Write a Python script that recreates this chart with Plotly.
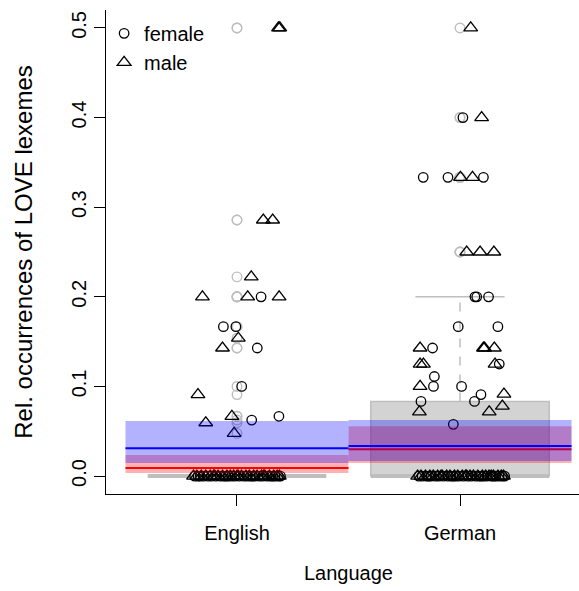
import plotly.graph_objects as go

# ---------------- data ----------------
languages = ["English", "German"]
lang_pos = [1, 2]

# non-zero observations (value, jittered x position)
eng_female_vals = [0.2, 0.1667, 0.1667, 0.1429, 0.1, 0.0667, 0.0625]
eng_female_x = [1.108, 0.939, 0.995, 1.091, 1.021, 1.188, 1.066]
eng_male_vals = [0.5, 0.5, 0.2857, 0.2857, 0.2222, 0.2, 0.2, 0.2, 0.1538,
                 0.1429, 0.0909, 0.0667, 0.0595, 0.0476]
eng_male_x = [1.186, 1.192, 1.118, 1.160, 1.064, 0.845, 1.048, 1.189, 1.006,
              0.935, 0.825, 0.977, 0.860, 0.987]
ger_female_vals = [0.4, 0.3333, 0.3333, 0.3333, 0.2, 0.2, 0.2, 0.1667, 0.1667,
                   0.1429, 0.125, 0.1111, 0.1, 0.1, 0.0909, 0.0833, 0.0833, 0.0577]
ger_female_x = [2.013, 1.835, 1.946, 2.105, 2.067, 2.075, 2.128, 1.992, 2.170,
                1.877, 2.176, 1.885, 1.881, 2.007, 2.094, 2.065, 1.825, 1.970]
ger_male_vals = [0.5, 0.4, 0.3333, 0.3333, 0.25, 0.25, 0.25, 0.1429, 0.1429,
                 0.1429, 0.1429, 0.125, 0.125, 0.125, 0.1, 0.0915, 0.078,
                 0.0717, 0.0717]
ger_male_x = [2.048, 2.097, 2.002, 2.056, 2.030, 2.090, 2.152, 1.821, 2.105,
              2.110, 2.154, 1.821, 1.836, 2.157, 1.821, 2.197, 2.190, 1.818, 2.131]

# zero observations (jittered x positions only, value = 0)
eng_female_zero_x = [0.81, 0.825, 0.85, 0.87, 0.885, 0.905, 0.925, 0.94, 0.96,
                     0.975, 0.99, 1.01, 1.03, 1.045, 1.06, 1.08, 1.1, 1.115,
                     1.135, 1.15, 1.17, 1.185, 1.195, 0.835, 0.95, 1.07, 1.16]
eng_male_zero_x = [0.805, 0.82, 0.84, 0.86, 0.88, 0.9, 0.915, 0.935, 0.955,
                   0.97, 0.985, 1.0, 1.02, 1.04, 1.055, 1.075, 1.09, 1.11,
                   1.125, 1.145, 1.165, 1.18, 1.19, 0.895, 1.005, 1.12]
ger_female_zero_x = [1.815, 1.83, 1.85, 1.87, 1.89, 1.905, 1.925, 1.945, 1.96,
                     1.98, 1.995, 2.015, 2.035, 2.05, 2.07, 2.085, 2.105, 2.12,
                     2.14, 2.16, 2.175, 2.19, 2.2, 1.86, 1.97, 2.095, 2.15]
ger_male_zero_x = [1.81, 1.825, 1.845, 1.865, 1.88, 1.9, 1.92, 1.94, 1.955,
                   1.975, 1.99, 2.01, 2.025, 2.045, 2.06, 2.08, 2.1, 2.115,
                   2.13, 2.15, 2.17, 2.185, 2.195, 1.915, 2.03, 2.14]

# boxplot statistics per language
box_q1 = [0.0, 0.0]
box_median = [0.0, 0.0]
box_q3 = [0.0, 0.0833]
whisk_lo = [0.0, 0.0]
whisk_hi = [0.0, 0.2]

# model estimates with confidence bands
female_fit = [0.0089, 0.030]
female_lo = [0.0033, 0.0145]
female_hi = [0.0234, 0.0557]
male_fit = [0.031, 0.0335]
male_lo = [0.0145, 0.0167]
male_hi = [0.0614, 0.0625]

y_ticks = [0.0, 0.1, 0.2, 0.3, 0.4, 0.5]
y_tick_labels = ["0.0", "0.1", "0.2", "0.3", "0.4", "0.5"]

# ---------------- figure ----------------
GREY = "#BEBEBE"
fig = go.Figure()

# box (precomputed)
fig.add_trace(go.Box(
    x=lang_pos, q1=box_q1, median=box_median, q3=box_q3,
    lowerfence=box_q1, upperfence=box_q3, width=0.8,
    fillcolor="#D3D3D3", line=dict(color=GREY, width=1.5),
    boxpoints=False, showlegend=False, hoverinfo="skip"))

box_w = 0.8
for i, p in enumerate(lang_pos):
    # dashed whiskers
    fig.add_trace(go.Scatter(x=[p, p], y=[box_q3[i], whisk_hi[i]], mode="lines",
                             line=dict(color=GREY, width=1.5, dash="dash"),
                             showlegend=False, hoverinfo="skip"))
    fig.add_trace(go.Scatter(x=[p, p], y=[box_q1[i], whisk_lo[i]], mode="lines",
                             line=dict(color=GREY, width=1.5, dash="dash"),
                             showlegend=False, hoverinfo="skip"))
    # caps
    for w in (whisk_hi[i], whisk_lo[i]):
        fig.add_trace(go.Scatter(x=[p - box_w / 4, p + box_w / 4], y=[w, w],
                                 mode="lines", line=dict(color=GREY, width=1.5),
                                 showlegend=False, hoverinfo="skip"))
    # median
    fig.add_trace(go.Scatter(x=[p - box_w / 2, p + box_w / 2],
                             y=[box_median[i], box_median[i]], mode="lines",
                             line=dict(color=GREY, width=4),
                             showlegend=False, hoverinfo="skip"))

# outliers (values beyond whiskers), drawn at the box centre
groups = [
    (eng_female_vals + eng_male_vals, 0),
    (ger_female_vals + ger_male_vals, 1),
]
out_x, out_y = [], []
for vals, i in groups:
    for v in vals:
        if v > whisk_hi[i] or v < whisk_lo[i]:
            out_x.append(lang_pos[i])
            out_y.append(v)
fig.add_trace(go.Scatter(x=out_x, y=out_y, mode="markers",
                         marker=dict(symbol="circle-open", size=9.5,
                                     color=GREY, line=dict(width=1.4, color=GREY)),
                         showlegend=False, hoverinfo="skip"))

# observations
fem_x = eng_female_x + eng_female_zero_x + ger_female_x + ger_female_zero_x
fem_y = (eng_female_vals + [0.0] * len(eng_female_zero_x)
         + ger_female_vals + [0.0] * len(ger_female_zero_x))
mal_x = eng_male_x + eng_male_zero_x + ger_male_x + ger_male_zero_x
mal_y = (eng_male_vals + [0.0] * len(eng_male_zero_x)
         + ger_male_vals + [0.0] * len(ger_male_zero_x))

fig.add_trace(go.Scatter(x=fem_x, y=fem_y, mode="markers", name="female",
                         marker=dict(symbol="circle-open", size=9.5, color="black",
                                     line=dict(width=1.3, color="black"))))
fig.add_trace(go.Scatter(x=mal_x, y=mal_y, mode="markers", name="male",
                         marker=dict(symbol="triangle-up-open", size=12, color="black",
                                     line=dict(width=1.3, color="black"))))

# confidence bands and fitted lines
def band(lo, hi, fit, fillc, linec):
    for i, p in enumerate(lang_pos):
        x0, x1 = p - 0.5, p + 0.5
        fig.add_trace(go.Scatter(x=[x0, x1, x1, x0, x0],
                                 y=[lo[i], lo[i], hi[i], hi[i], lo[i]],
                                 mode="lines", fill="toself", fillcolor=fillc,
                                 line=dict(width=0), showlegend=False,
                                 hoverinfo="skip"))
        fig.add_trace(go.Scatter(x=[x0, x1], y=[fit[i], fit[i]], mode="lines",
                                 line=dict(color=linec, width=2),
                                 showlegend=False, hoverinfo="skip"))

band(female_lo, female_hi, female_fit, "rgba(255,0,0,0.3)", "#FF0000")
band(male_lo, male_hi, male_fit, "rgba(0,0,255,0.3)", "#0000FF")

fig.update_layout(
    width=579, height=591,
    margin=dict(l=106, r=0, t=10, b=97),
    plot_bgcolor="white", paper_bgcolor="white",
    font=dict(family="Liberation Sans, Arial, sans-serif", size=20, color="black"),
    legend=dict(x=-0.004, y=0.992, xanchor="left", yanchor="top",
                bgcolor="rgba(0,0,0,0)", font=dict(size=20),
                itemwidth=30, tracegroupgap=0),
    annotations=[dict(text="Language", xref="paper", yref="paper",
                      x=(348.5 - 106) / 473, y=-0.164, xanchor="center",
                      yanchor="middle", showarrow=False, font=dict(size=20))],
)
fig.update_xaxes(range=[0.4126, 2.5336], tickvals=lang_pos, ticktext=languages,
                 showline=True, linecolor="black", linewidth=1, mirror=False,
                 ticks="outside", ticklen=11, tickcolor="black",
                 showgrid=False, zeroline=False, ticklabelstandoff=10,
                 automargin=False)
fig.update_yaxes(range=[-0.02, 0.52], tickvals=y_ticks, ticktext=y_tick_labels,
                 tickangle=-90, showline=True, linecolor="black", linewidth=1,
                 ticks="outside", ticklen=11, tickcolor="black",
                 showgrid=False, zeroline=False, automargin=False,
                 title=dict(text="Rel. occurrences of LOVE lexemes", standoff=28))

fig.write_html("out.html",
               config={"displayModeBar": False},
               post_script="document.body.style.margin='0';"
                           "document.body.style.padding='0';")
